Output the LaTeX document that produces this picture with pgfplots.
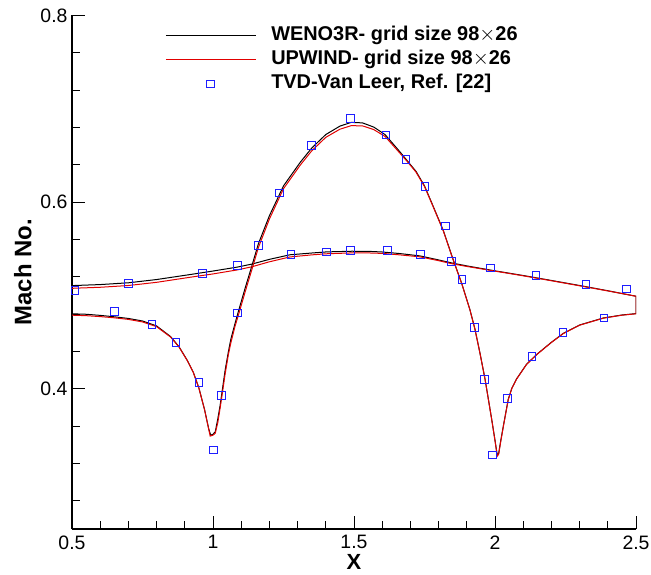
\documentclass[border=0pt]{standalone}
\usepackage{fontspec}
\setmainfont{Liberation Sans}
\usepackage{pgfplots}
\pgfplotsset{compat=1.18}
\definecolor{myred}{RGB}{225,0,0}
\definecolor{myblue}{RGB}{30,30,255}
\begin{document}
\begin{tikzpicture}
\begin{axis}[
  scale only axis, width=564bp, height=513.5bp,
  xmin=0.5, xmax=2.5, ymin=0.25, ymax=0.8,
  axis x line*=bottom, axis y line*=left,
  axis line style={line width=1.1bp},
  xtick={0.5,1,1.5,2,2.5}, ytick={0.4,0.6,0.8},
  minor xtick={0.6,0.7,0.8,0.9,1.1,1.2,1.3,1.4,1.6,1.7,1.8,1.9,2.1,2.2,2.3,2.4},
  minor ytick={0.28,0.32,0.36,0.44,0.48,0.52,0.56,0.64,0.68,0.72,0.76},
  tick align=inside,
  major tick length=13bp, minor tick length=8bp,
  every tick/.style={black, line width=1bp},
  /pgf/number format/assume math mode=true,
  tick label style={font=\fontsize{19.5}{22}\selectfont},
  xticklabel style={yshift=-3bp},
  yticklabel style={xshift=-1bp},
  xlabel={X}, ylabel={Mach No.},
  xlabel style={font=\fontsize{22}{24}\selectfont\bfseries, yshift=1.5bp},
  ylabel style={font=\fontsize{24}{26}\selectfont\bfseries, yshift=2bp},
  legend image code/.code={\path[draw=none,fill=none] (0bp,-5bp) (90bp,5bp); \draw[mark repeat=2,mark phase=2,#1] plot coordinates {(0bp,0bp) (45bp,0bp) (90bp,0bp)};},
  legend style={draw=none, fill=none, at={(rel axis cs:0.165,0.979)}, anchor=north west, inner sep=0pt,
    font=\fontsize{20}{22}\selectfont\bfseries, row sep=5bp,
    nodes={inner sep=0pt, text height=14.5bp, text depth=4.5bp},
    /tikz/every odd column/.append style={column sep=15bp}},
  legend cell align=left,
]
\addplot[black, line width=1bp] coordinates {
(0.500,0.4805) (0.550,0.4800) (0.600,0.4788) (0.650,0.4773) (0.700,0.4755) (0.750,0.4728) (0.800,0.4675) (0.850,0.4560) (0.880,0.4450) (0.910,0.4300) (0.930,0.4180) (0.950,0.4010) (0.970,0.3780) (0.985,0.3570) (0.992,0.3505) (1.000,0.3515) (1.008,0.3540) (1.017,0.3680) (1.025,0.3820) (1.034,0.4010) (1.043,0.4200) (1.054,0.4390) (1.063,0.4530) (1.078,0.4700) (1.090,0.4830) (1.115,0.5090) (1.137,0.5310) (1.161,0.5555) (1.200,0.5855) (1.250,0.6175) (1.310,0.6430) (1.350,0.6580) (1.400,0.6725) (1.450,0.6815) (1.490,0.6855) (1.530,0.6850) (1.570,0.6805) (1.610,0.6725) (1.660,0.6550) (1.690,0.6440) (1.720,0.6330) (1.750,0.6175) (1.781,0.5955) (1.817,0.5695) (1.850,0.5400) (1.882,0.5130) (1.911,0.4850) (1.929,0.4640) (1.947,0.4380) (1.965,0.4100) (1.988,0.3680) (2.000,0.3450) (2.008,0.3290) (2.013,0.3310) (2.020,0.3440) (2.030,0.3610) (2.047,0.3890) (2.060,0.4010) (2.077,0.4110) (2.112,0.4265) (2.148,0.4370) (2.200,0.4500) (2.242,0.4595) (2.300,0.4685) (2.384,0.4760) (2.450,0.4792) (2.500,0.4807)
(2.500,0.4993) (2.400,0.5052) (2.300,0.5108) (2.200,0.5162) (2.100,0.5215) (2.000,0.5265) (1.900,0.5318) (1.846,0.5350) (1.800,0.5382) (1.734,0.5425) (1.663,0.5450) (1.600,0.5467) (1.550,0.5474) (1.492,0.5475) (1.403,0.5468) (1.350,0.5456) (1.273,0.5437) (1.200,0.5388) (1.137,0.5337) (1.086,0.5305) (1.000,0.5263) (0.918,0.5225) (0.800,0.5172) (0.700,0.5137) (0.600,0.5118) (0.500,0.5107)
};
\addlegendentry{WENO3R- grid size 98$\times$26}
\addplot[myred, line width=1bp] coordinates {
(0.500,0.4790) (0.550,0.4785) (0.600,0.4775) (0.650,0.4762) (0.700,0.4745) (0.750,0.4718) (0.800,0.4667) (0.850,0.4555) (0.880,0.4447) (0.910,0.4298) (0.930,0.4178) (0.950,0.4008) (0.970,0.3778) (0.985,0.3565) (0.990,0.3495) (1.000,0.3505) (1.008,0.3525) (1.017,0.3640) (1.025,0.3790) (1.034,0.3970) (1.043,0.4160) (1.054,0.4360) (1.063,0.4490) (1.078,0.4670) (1.090,0.4790) (1.115,0.5050) (1.137,0.5270) (1.161,0.5515) (1.200,0.5820) (1.250,0.6145) (1.310,0.6400) (1.350,0.6550) (1.400,0.6695) (1.450,0.6782) (1.490,0.6820) (1.530,0.6818) (1.570,0.6778) (1.610,0.6705) (1.660,0.6535) (1.690,0.6432) (1.720,0.6322) (1.750,0.6168) (1.781,0.5950) (1.817,0.5690) (1.850,0.5397) (1.882,0.5128) (1.911,0.4848) (1.929,0.4638) (1.947,0.4378) (1.965,0.4098) (1.988,0.3678) (2.000,0.3445) (2.008,0.3280) (2.013,0.3300) (2.020,0.3430) (2.030,0.3605) (2.047,0.3885) (2.060,0.4008) (2.077,0.4108) (2.112,0.4263) (2.148,0.4368) (2.200,0.4498) (2.242,0.4593) (2.300,0.4683) (2.384,0.4758) (2.450,0.4790) (2.500,0.4805)
(2.500,0.4993) (2.400,0.5050) (2.300,0.5105) (2.200,0.5159) (2.100,0.5212) (2.000,0.5262) (1.900,0.5312) (1.846,0.5342) (1.800,0.5374) (1.734,0.5415) (1.663,0.5436) (1.600,0.5452) (1.550,0.5457) (1.492,0.5457) (1.403,0.5448) (1.350,0.5436) (1.273,0.5414) (1.200,0.5362) (1.137,0.5308) (1.086,0.5275) (1.000,0.5232) (0.918,0.5196) (0.800,0.5142) (0.700,0.5108) (0.600,0.5089) (0.500,0.5078)
};
\addlegendentry{UPWIND- grid size 98$\times$26}
\addplot[only marks, mark=square, mark size=3.8bp, color=myblue, mark options={draw=myblue, line width=1bp}] coordinates {
(0.510,0.5057) (0.700,0.5128) (0.962,0.5237) (1.086,0.5324) (1.276,0.5437) (1.402,0.5468) (1.488,0.5485) (1.619,0.5485) (1.736,0.5437) (1.846,0.5366) (1.985,0.5297) (2.145,0.5214) (2.322,0.5118) (2.467,0.5072)
(0.650,0.4829) (0.783,0.4690) (0.869,0.4495) (0.950,0.4070) (1.001,0.3345) (1.030,0.3930) (1.087,0.4815) (1.161,0.5535) (1.235,0.6098) (1.350,0.6607) (1.488,0.6896) (1.613,0.6722) (1.684,0.6460) (1.752,0.6170) (1.825,0.5747) (1.883,0.5170) (1.927,0.4661) (1.962,0.4102) (1.992,0.3293) (2.045,0.3900) (2.131,0.4350) (2.241,0.4607) (2.387,0.4762)
};
\addlegendentry{TVD-Van Leer, Ref. [22]}
\end{axis}
\pgfresetboundingbox
\path[use as bounding box] ([xshift=-72bp,yshift=-46bp]current axis.south west) rectangle ([xshift=15bp,yshift=15.5bp]current axis.north east);
\end{tikzpicture}
\end{document}
